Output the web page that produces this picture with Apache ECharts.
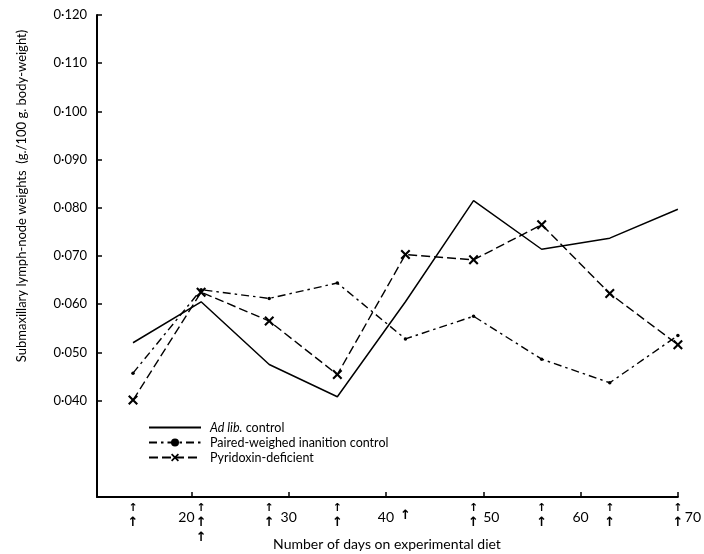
<!DOCTYPE html>
<html>
<head>
<meta charset="utf-8">
<script src="https://cdn.jsdelivr.net/npm/echarts@6/dist/echarts.min.js"></script>
<style>
html,body{margin:0;padding:0;background:#fff;}
#chart{width:704px;height:554px;}
</style>
</head>
<body>
<div id="chart"></div>
<script>
// ---- data ----
const days = [14, 21, 28, 35, 42, 49, 56, 63, 70];
const adLib = [0.0520, 0.0605, 0.0475, 0.0408, 0.0605, 0.0815, 0.0714, 0.0737, 0.0797];
const paired = [0.0457, 0.0630, 0.0612, 0.0644, 0.0528, 0.0575, 0.0486, 0.0437, 0.0535];
const pyridoxin = [0.0401, 0.0625, 0.0565, 0.0454, 0.0703, 0.0692, 0.0765, 0.0622, 0.0516];
const yTicks = [0.04, 0.05, 0.06, 0.07, 0.08, 0.09, 0.10, 0.11, 0.12];
const xTicks = [20, 30, 40, 50, 60, 70];
const arrowDays = [14, 21, 28, 35, 42, 49, 56, 63, 70];
const arrowCounts = [2, 3, 2, 2, 1, 2, 2, 2, 2];
const seriesNames = ['Ad lib. control', 'Paired-weighed inanition control', 'Pyridoxin-deficient'];

const FONT = 'Lato, "Open Sans", sans-serif';
const pairs = (vals) => days.map((d, i) => [d, vals[i]]);
const xPath = 'path://M0,1.5 L1.5,0 L5,3.5 L8.5,0 L10,1.5 L6.5,5 L10,8.5 L8.5,10 L5,6.5 L1.5,10 L0,8.5 L3.5,5Z';

const chart = echarts.init(document.getElementById('chart'), null, {renderer: 'canvas'});
const xLabelPad = {20: [0, 10, 0, 0], 50: [0, 0, 0, 16], 70: [0, 0, 0, 30]};

chart.setOption({
  backgroundColor: '#fff',
  animation: false,
  grid: {left: 97, right: 26, top: 15, bottom: 57},
  xAxis: {
    type: 'value', min: 10.3, max: 70,
    axisLine: {lineStyle: {color: '#000', width: 2}},
    axisTick: {inside: true, length: 5, customValues: xTicks, lineStyle: {color: '#000', width: 1.5}},
    axisLabel: {
      customValues: xTicks, margin: 13, color: '#000', fontFamily: FONT, fontSize: 14,
      formatter: v => '{t' + v + '|' + v + '}',
      rich: Object.fromEntries(xTicks.map(t => ['t' + t, {fontFamily: FONT, fontSize: 14, color: '#000', padding: xLabelPad[t] || [0,0,0,0]}]))
    },
    splitLine: {show: false}
  },
  yAxis: {
    type: 'value', min: 0.02, max: 0.12,
    axisLine: {show: true, lineStyle: {color: '#000', width: 2}},
    axisTick: {show: true, inside: true, length: 5, customValues: yTicks, lineStyle: {color: '#000', width: 1.5}},
    axisLabel: {
      customValues: yTicks, margin: 10, color: '#000', fontFamily: FONT, fontSize: 13,
      formatter: v => v.toFixed(3).replace('.', '\u00b7')
    },
    splitLine: {show: false}
  },
  legend: {
    orient: 'vertical', left: 143, top: 416,
    itemWidth: 52, itemHeight: 10, itemGap: 2,
    data: [
      {name: seriesNames[0], itemStyle: {opacity: 0}},
      {name: seriesNames[1]},
      {name: seriesNames[2]}
    ],
    textStyle: {fontFamily: FONT, fontSize: 12.5, color: '#000', padding: [0, 0, 0, 4],
      rich: {i: {fontFamily: FONT, fontSize: 12.5, fontStyle: 'italic', color: '#000'},
             n: {fontFamily: FONT, fontSize: 12.5, color: '#000'}}},
    formatter: name => name === 'Ad lib. control' ? '{i|Ad lib.}{n| control}' : '{n|' + name + '}'
  },
  series: [
    {
      name: seriesNames[0], type: 'line', data: pairs(adLib), symbol: 'none',
      lineStyle: {color: '#000', width: 1.5}, itemStyle: {color: '#000'}
    },
    {
      name: seriesNames[1], type: 'line', data: pairs(paired), symbol: 'circle', symbolSize: 3.5,
      lineStyle: {color: '#000', width: 1.4, type: [8, 4, 2.5, 4]}, itemStyle: {color: '#000'}
    },
    {
      name: seriesNames[2], type: 'line', data: pairs(pyridoxin), symbol: xPath, symbolSize: 10,
      lineStyle: {color: '#000', width: 1.4, type: [9, 4]}, itemStyle: {color: '#000'}
    }
  ]
});

// annotations: sampling-day arrows and axis titles
const graphics = [];
const rowY = {1: [516], 2: [508, 523], 3: [508, 523, 538]};
arrowDays.forEach((d, i) => {
  const x = chart.convertToPixel({xAxisIndex: 0}, d);
  rowY[arrowCounts[i]].forEach((y, k) => {
    graphics.push({
      type: 'text', x: x, y: y,
      style: {text: '\u2191', font: 'bold ' + (k === 0 && arrowCounts[i] > 1 ? '11px' : '13px') + ' "DejaVu Sans"',
              fill: '#000', align: 'center', verticalAlign: 'middle'}
    });
  });
});
graphics.push({
  type: 'text', x: 22, y: 196, rotation: Math.PI / 2,
  style: {text: 'Submaxillary lymph-node weights  (g./100 g. body-weight)', font: '13px ' + FONT,
          fill: '#000', align: 'center', verticalAlign: 'middle'}
});
graphics.push({
  type: 'text', x: 387, y: 544,
  style: {text: 'Number of days on experimental diet', font: '14px ' + FONT,
          fill: '#000', align: 'center', verticalAlign: 'middle'}
});
chart.setOption({graphic: graphics});
</script>
</body>
</html>
